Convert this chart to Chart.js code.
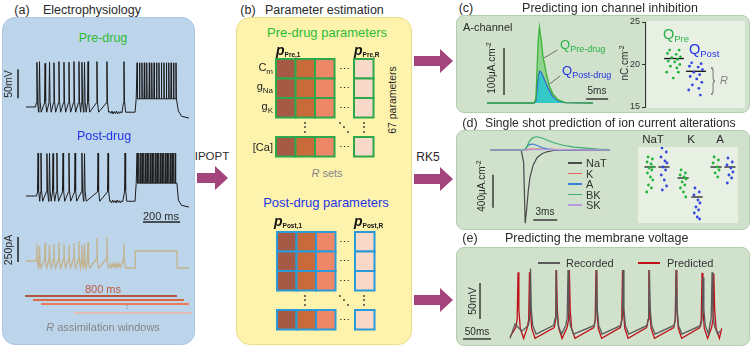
<!DOCTYPE html>
<html>
<head>
<meta charset="utf-8">
<title>Parameter estimation figure</title>
<script src="https://cdn.jsdelivr.net/npm/chart.js@4/dist/chart.umd.min.js"></script>
<style>
  html, body { margin: 0; padding: 0; background: #fff; }
  #fig { position: relative; width: 753px; height: 348px; overflow: hidden;
         font-family: 'Liberation Sans', Arial, sans-serif; color: #2a2a2a; }
  #fig canvas { position: absolute; }
  .t { position: absolute; white-space: nowrap; line-height: 1; }
  .b { position: absolute; box-sizing: border-box; }
</style>
</head>
<body>
<div id="fig"></div>
<script>
// ---------- data ----------
// (a) recordings, time in ms, voltage in mV, injected current in pA
const preSpikes = [59, 73, 103, 127, 151, 178, 205, 232, 259, 286, 302, 316, 335, 383, 437, 529];
const prePeaks = [12, 13, 10, 12, 11, 13, 12, 12, 13, 13, 12, 12, 13, 13, 13, 13];
const preBurst = [600, 613, 626, 639, 652, 666, 679, 692, 705, 718, 731, 745, 758, 771, 784, 797, 810];
const preNoise = [[452,-73],[458,-76],[464,-72],[470,-77],[476,-73],[482,-76],[488,-72],[494,-77],[500,-73],[506,-76],[512,-73],[518,-75]];
const postSpikes = [65, 81, 113, 127, 146, 167, 200, 232, 265, 302, 316, 389, 443, 535];
const postPeaks = [9, 9, 8, 9, 8, 9, 9, 9, 9, 9, 8, 9, 9, 9];
const postBurst = [600, 609, 618, 627, 636, 645, 654, 663, 672, 681, 690, 699, 708, 717, 726, 735, 744, 753, 762, 771, 780, 789, 798, 807];
const postNoise = [[456,-73],[462,-77],[468,-72],[474,-76],[480,-73],[486,-77],[492,-72],[498,-76],[504,-73],[510,-77],[516,-73],[522,-75]];
const stimPeaks = [170, 150, 180, 160, 170, 190, 170, 160, 180, 200, 160, 170, 190, 230, 240, 180];
const stimNoise = [[450,-60],[456,-30],[462,-65],[468,-25],[474,-60],[480,-30],[486,-65],[492,-25],[498,-60],[504,-30],[510,-65],[516,-35]];
const stepOn = 589, stepOff = 815, traceEnd = 880;
const windowStart = [-5, 38, 81, 259];
const windowEnd = [815, 853, 880, 896];

// (b) parameter matrix: rows = parameters (1,2,3 ... 67th), cols = sets (1,2,3 ... R)
const gridRows = [1, 2, 3, 5];
const gridCols = [1, 2, 3, 5];
const rowNames = ['C<sub>m</sub>', 'g<sub>Na</sub>', 'g<sub>K</sub>', '[Ca]'];

// (c) A-channel current (ms, uA/cm2) and charge (nC/cm2)
const aTime = [0, 10.7, 11.1, 11.6, 11.9, 12.3, 12.7, 13.4, 14.1, 14.9, 16.1, 17.7, 24];
const aPre  = [0, 0, 10, 130, 162, 135, 100, 65, 38, 20, 7, 1, 0];
const aPost = [0, 0, 5, 55, 68, 66, 58, 42, 28, 14, 5, 1, 0];
const qPre  = [21.7, 21.7, 21.3, 21.2, 20.9, 20.8, 20.6, 20.4, 20.3, 20.0, 19.8, 19.6, 19.1, 19.1, 18.4];
const qPost = [20.2, 20.1, 19.8, 19.7, 19.4, 19.1, 18.8, 18.6, 18.3, 17.9, 17.6, 17.2, 17.0, 16.4];
const qPreMean = 20.7, qPostMean = 19.2;

// (d) ionic currents (ms, uA/cm2) and alterations
const curTime = [0, 3.9, 4.2, 4.4, 4.6, 4.8, 5.0, 5.4, 5.9, 6.5, 7.1, 7.9, 9, 10.5, 12, 13.5, 15];
const curNaT = [0, 0, -150, -885, -700, -480, -330, -180, -90, -45, -22, -6, 0, 0, 0, 0, 0];
const curK   = [0, 0, 0, 2, 5, 8, 10, 12, 12, 11, 9, 7, 4, 2, 1, 0, 0];
const curA   = [0, 0, 0, 10, 35, 55, 68, 72, 55, 30, 14, 5, 0, 0, 0, 0, 0];
const curBK  = [0, 0, 0, 10, 40, 80, 115, 150, 160, 145, 120, 90, 60, 35, 22, 10, 5];
const curSK  = [0, 0, 0, 0, 0, 1, 2, 3, 4, 5, 5, 5, 4, 3, 2, 1, 0];
const curNames = ['NaT', 'K', 'A', 'BK', 'SK'];
const altGroups = ['NaT', 'K', 'A'];
const altPre  = [[66,64,61,59,56,55,53,50,46,43,38,35,31], [53,50,48,46,44,41,38,35,31,26], [66,63,60,56,53,50,46]];
const altPost = [[75,71,66,62,60,56,53,48,43,37,33], [35,31,28,23,20,16,13,10,6,4], [65,61,58,55,51,48,45,40]];
const altPreMean = [56, 45, 56];
const altPostMean = [56, 26, 56];

// (e) membrane voltage (ms, mV)
const recSpikes = [36.6, 82, 103.6, 154.5, 202, 249, 297, 344.7, 360.8];
const recPeaks  = [27, 25, 25, 25, 25, 25, 25, 15, 22];
const predSpikes = [14.3, 34.8, 83, 106, 153.6, 201, 248, 296.5, 343, 364];
const predPeaks  = [22, 22, 25, 25, 25, 25, 25, 25, 21, 20];

// ---------- styles ----------
const GREEN = '#2dbb36', BLUE = '#2433e6', PURPLE = '#a3447c', GREY = '#858585';
const dotGreen = '#22b33a', dotBlue = '#3347e0';
const cellFill = ['#a65a45', '#c96a3b', '#ee8768', '#f8d8c9'];
const windowColors = ['#b4553e', '#d9683f', '#ef7b55', '#f5b0a5'];
const curColors = ['#4a4a4a', '#e86060', '#3d7fd6', '#3fb070', '#b79be0'];
const dotJitter = [-0.06, 0.07, -0.09, 0.03, 0.09, -0.03, 0.05, -0.08, 0.01, 0.08, -0.05, 0.04, -0.1, 0.06, -0.01];

Chart.defaults.font.family = "'Liberation Sans', Arial, sans-serif";

// ---------- helpers ----------
const fig = document.getElementById('fig');

function rectDiv(x, y, w, h, bg, border, r) {
  const d = document.createElement('div');
  d.className = 'b';
  d.style.cssText = `left:${x}px;top:${y}px;width:${w}px;height:${h}px;background:${bg};border:${border};border-radius:${r}px`;
  fig.appendChild(d);
  return d;
}

function txt(html, x, y, size, color, anchor, rot, extra) {
  const d = document.createElement('div');
  d.className = 't';
  d.innerHTML = html;
  const ax = anchor === 'l' ? '0' : anchor === 'r' ? '-100%' : '-50%';
  d.style.left = x + 'px';
  d.style.top = y + 'px';
  d.style.fontSize = size + 'px';
  d.style.color = color || '#2a2a2a';
  d.style.transform = `translate(${ax},-50%)` + (rot ? ` rotate(${rot}deg)` : '');
  if (extra) Object.assign(d.style, extra);
  fig.appendChild(d);
  return d;
}
const sub = (s, f) => `<span style="font-size:${f}px;vertical-align:-0.3em">${s}</span>`;
const sup = (s, f) => `<span style="font-size:${f}px;vertical-align:0.6em">${s}</span>`;

function arrow(x1, x2, cy) {
  const w = x2 - x1, h = 24, head = 13, sh = 5;
  const d = document.createElement('div');
  d.className = 'b';
  d.style.cssText = `left:${x1}px;top:${cy - h / 2}px;width:${w}px;height:${h}px;background:${PURPLE};` +
    `clip-path:polygon(0 ${h / 2 - sh}px, ${w - head}px ${h / 2 - sh}px, ${w - head}px 0, ${w}px ${h / 2}px, ${w - head}px ${h}px, ${w - head}px ${h / 2 + sh}px, 0 ${h / 2 + sh}px)`;
  fig.appendChild(d);
}

function hline(x, y, w, color, t) {
  const d = document.createElement('div');
  d.className = 'b';
  d.style.cssText = `left:${x}px;top:${y - t / 2}px;width:${w}px;height:${t}px;background:${color}`;
  fig.appendChild(d);
}

function canvasAt(x, y, w, h) {
  const c = document.createElement('canvas');
  c.width = w; c.height = h;
  c.style.left = x + 'px'; c.style.top = y + 'px';
  c.style.width = w + 'px'; c.style.height = h + 'px';
  fig.appendChild(c);
  return c;
}

function baseOpts(xr, yr, rev) {
  return {
    responsive: false, animation: false, devicePixelRatio: 1,
    layout: { padding: 0, autoPadding: false },
    plugins: { legend: { display: false }, tooltip: { enabled: false } },
    elements: { point: { radius: 0 }, line: { tension: 0 } },
    scales: {
      x: { type: 'linear', display: false, min: xr[0], max: xr[1] },
      y: { type: 'linear', display: false, min: yr[0], max: yr[1], reverse: !!rev }
    }
  };
}

function lineChart(rect, xr, yr, datasets, rev) {
  return new Chart(canvasAt(...rect), { type: 'line', data: { datasets }, options: baseOpts(xr, yr, rev) });
}

const ln = (data, color, w, extra) => Object.assign({ data, borderColor: color, borderWidth: w, fill: false, pointRadius: 0 }, extra || {});
const seg = (x1, y1, x2, y2) => [{ x: x1, y: y1 }, { x: x2, y: y2 }];
const xy = (xs, ys) => xs.map((x, i) => ({ x, y: ys[i] }));

// recording with irregular firing, then a depolarising step with a burst
function recording(spikes, peaks, burst, burstPeak, noise, lv) {
  const pts = [{ x: 0, y: lv.rest }, { x: spikes[0] - 8, y: lv.rest }];
  spikes.forEach((t, i) => {
    pts.push({ x: t - 3, y: lv.thr }, { x: t, y: peaks[i] }, { x: t + 3, y: lv.fall }, { x: t + 9, y: lv.trough });
  });
  noise.forEach(p => pts.push({ x: p[0], y: p[1] }));
  pts.push({ x: stepOn, y: lv.trough }, { x: stepOn + (lv.square ? 1 : 6), y: lv.plateau });
  burst.forEach(t => pts.push({ x: t - 2, y: lv.plateau }, { x: t, y: burstPeak }, { x: t + 2, y: lv.plateau }));
  if (lv.square) {
    pts.push({ x: stepOff, y: lv.plateau }, { x: stepOff + 1, y: lv.after }, { x: traceEnd, y: lv.after });
  } else {
    pts.push({ x: stepOff, y: lv.plateau }, { x: stepOff + 8, y: lv.after + 12 }, { x: stepOff + 25, y: lv.after + 3 }, { x: traceEnd, y: lv.after });
  }
  return pts.sort((a, b) => a.x - b.x);
}

// narrow spikes with a curved after-hyperpolarisation
function vmTrace(start, spikes, peaks, lv, extra, end) {
  const pts = [start, ...extra];
  spikes.forEach((t, i) => {
    pts.push({ x: t - 4, y: lv.ramp }, { x: t - 1.5, y: lv.thr }, { x: t, y: peaks[i] }, { x: t + 1.5, y: lv.fall },
      { x: t + 4, y: lv.ahp }, { x: t + 10, y: lv.trough });
  });
  pts.push(end);
  return pts.sort((a, b) => a.x - b.x);
}

// ---------- panel backgrounds ----------
rectDiv(2, 17, 193, 328, '#bdd5eb', '1px solid #aac7e4', 13);
rectDiv(236, 17, 176, 328, '#fdf3ad', '1px solid #ecdc88', 14);
rectDiv(456, 15, 294, 98, '#d0e2cc', '1px solid #b5ceb0', 8);
rectDiv(456, 130, 294, 100, '#d0e2cc', '1px solid #b5ceb0', 8);
rectDiv(456, 247, 294, 99, '#d0e2cc', '1px solid #b5ceb0', 8);
rectDiv(647, 21, 98, 87, '#e7f0e3', 'none', 0);
rectDiv(638, 147, 100, 76, '#e7f0e3', 'none', 0);

arrow(197, 228, 178);
arrow(414, 453, 61);
arrow(414, 453, 179);
arrow(414, 453, 300);

// ---------- (a) electrophysiology ----------
const aX = [-75.6, 907.2];
lineChart([12, 55, 182, 70], aX, [-96, 24.4], [
  ln(recording(preSpikes, prePeaks, preBurst, 11, preNoise,
    { rest: -65, thr: -58, fall: -55, trough: -74, plateau: -51, after: -84 }), '#1c1c1c', 1),
  ln(seg(-43, -50, -43, 0), '#222', 1.5)
]);
lineChart([12, 138, 182, 90], aX, [-120, 34.8], [
  ln(recording(postSpikes, postPeaks, postBurst, 9, postNoise,
    { rest: -65, thr: -58, fall: -55, trough: -74, plateau: -43, after: -84 }), '#1c1c1c', 1),
  ln(seg(632, -109.7, 832, -109.7), '#222', 1.5)
]);
lineChart([12, 230, 182, 44], aX, [-130, 310], [
  ln(recording(preSpikes, stimPeaks, [], 0, stimNoise,
    { rest: 0, thr: 20, fall: -20, trough: -70, plateau: 100, after: -70, square: true }), '#c2b28e', 1.3),
  ln(seg(-43, -10, -43, 240), '#222', 1.5)
]);
lineChart([12, 290, 182, 28], aX, [-0.5, 6.5], [
  ...windowStart.map((s, i) => ln(seg(s, i < 3 ? i + 1 : 5.25, windowEnd[i], i < 3 ? i + 1 : 5.25), windowColors[i], i < 3 ? 2 : 1.5)),
  ln(seg(545, 3.3, 545, 4.5), '#777', 1, { borderDash: [1, 1.5] })
], true);

txt('(a)', 22, 10, 12.5);
txt('Electrophysiology', 43, 10, 12.5, null, 'l');
txt('Pre-drug', 103, 38, 12.5, GREEN);
txt('Post-drug', 104, 136, 12.5, BLUE);
txt('50mV', 8, 84, 10.5, null, 'c', -90);
txt('200 ms', 161, 216, 11);
txt('250pA', 8, 250, 10.5, null, 'c', -90);
txt('800 ms', 103, 289, 11, '#c0583e');
txt('<i>R</i> assimilation windows', 103, 327, 11, GREY);
txt('IPOPT', 212, 157, 11.5);
txt('RK5', 428, 157, 12);

// ---------- (b) parameter estimation ----------
function paramGrid(x, y, edge) {
  const pts = [], fills = [];
  gridRows.forEach(r => gridCols.forEach((c, j) => { pts.push({ x: c, y: r }); fills.push(cellFill[j]); }));
  new Chart(canvasAt(x, y, 110, 105), {
    type: 'scatter',
    data: { datasets: [{ data: pts, pointStyle: 'rect', pointRadius: 13.8, backgroundColor: fills, borderColor: edge, borderWidth: 2, clip: false }] },
    options: baseOpts([0.192, 5.833], [0.295, 5.68], true)
  });
}
paramGrid(270, 55, '#2ea84a');
paramGrid(271, 228, '#2a9ad8');

txt('(b)', 248, 10, 12.5);
txt('Parameter estimation', 265, 10, 12.5, null, 'l');
txt('Pre-drug parameters', 327, 32, 13, GREEN);
txt('Post-drug parameters', 326, 202, 13, BLUE);
txt('<i>R</i> sets', 327, 173, 11, GREY);
txt('67 parameters', 392, 100, 10.5, null, 'c', -90);
const pLab = (s) => `<b><i>p</i></b>${sub('<b>' + s + '</b>', 6.5)}`;
txt(pLab('Pre,1'), 276, 51, 14, '#111', 'l');
txt(pLab('Pre,R'), 354, 51, 14, '#111', 'l');
txt(pLab('Post,1'), 274, 222, 14, '#111', 'l');
txt(pLab('Post,R'), 354, 222, 14, '#111', 'l');
[68.75, 88.25, 107.75, 146.7].forEach((yy, i) => {
  txt(rowNames[i].replace(/<sub>(.*?)<\/sub>/, (m, s) => sub(s, 8)), 273, yy, 11, '#222', 'r');
});
[0, 173].forEach(dy => {
  [68.75, 88.25, 107.75, 146.7].forEach(yy => txt('\u22ef', 344, yy + dy, 11, '#222'));
  txt('\u22ee', 305, 127 + dy, 12, '#222');
  txt('\u22f1', 344, 127 + dy, 12, '#222');
  txt('\u22ee', 364, 127 + dy, 12, '#222');
});

// ---------- (c) ion channel inhibition ----------
lineChart([470, 18, 145, 92], [-3.86, 29.05], [-14.9, 181], [
  ln(xy(aTime, aPre), '#3cb43c', 1.3, { fill: 1, backgroundColor: 'rgba(90,200,90,0.55)' }),
  ln(xy(aTime, aPost), '#3a4fe0', 1.3, { fill: 'origin', backgroundColor: '#34c9c6' }),
  ln(seg(3.86, 17, 3.86, 117), '#222', 1.3),
  ln(seg(22.5, 8.5, 27.5, 8.5), '#222', 1.3),
  ln(seg(12.8, 95, 16, 113), '#6d6d6d', 1),
  ln(seg(13.85, 38, 16.6, 57.5), '#6d6d6d', 1)
]);

new Chart(canvasAt(625, 14, 125, 102), {
  type: 'scatter',
  data: {
    datasets: [
      { data: qPre.map((v, i) => ({ x: 1 + dotJitter[i] * 3.3, y: v })), backgroundColor: dotGreen, pointRadius: 1.4, borderWidth: 0 },
      { data: qPost.map((v, i) => ({ x: 2 + dotJitter[i] * 3.3, y: v })), backgroundColor: dotBlue, pointRadius: 1.4, borderWidth: 0 },
      { data: seg(0.55, qPreMean, 1.45, qPreMean), showLine: true, borderColor: '#111', borderWidth: 1.3, pointRadius: 0 },
      { data: seg(1.55, qPostMean, 2.45, qPostMean), showLine: true, borderColor: '#111', borderWidth: 1.3, pointRadius: 0 }
    ]
  },
  options: {
    responsive: false, animation: false, devicePixelRatio: 1,
    layout: { padding: { top: 8, bottom: 9, right: 5, left: 0 }, autoPadding: false },
    plugins: { legend: { display: false }, tooltip: { enabled: false } },
    scales: {
      x: { type: 'linear', display: false, min: -0.318, max: 4.227 },
      y: {
        type: 'linear', min: 15, max: 25, position: 'left',
        ticks: { stepSize: 10, font: { size: 9 }, color: '#333', padding: 2 },
        grid: { drawOnChartArea: false, tickLength: 3, color: '#333' },
        border: { color: '#333' },
        afterFit: s => { s.width = 20; }
      }
    }
  }
});

txt('(c)', 466, 8, 12.5);
txt('Predicting ion channel inhibition', 610, 8, 12.5);
txt('A-channel', 463, 27, 11, null, 'l');
txt('100\u03bcA.cm' + sup('-2', 7), 491, 68, 10, null, 'c', -90);
txt('5ms', 597, 91, 10);
txt('Q' + sub('Pre-drug', 9), 560, 46, 13, '#29b046', 'l');
txt('Q' + sub('Post-drug', 9), 562, 72, 13, BLUE, 'l');
txt('nC.cm' + sup('-2', 7), 624, 63, 10, null, 'c', -90);
txt('Q' + sub('Pre', 9.5), 663, 35, 14.5, '#29b046', 'l');
txt('Q' + sub('Post', 9.5), 689, 50, 14.5, BLUE, 'l');
txt('}', 713, 79, 30, GREY, 'c', 0, { transform: 'translate(-50%,-50%) scaleX(0.45)', fontWeight: '300' });
txt('<i>R</i>', 724, 80, 11, GREY);

// ---------- (d) ion current alterations ----------
const curSeries = [curNaT, curK, curA, curBK, curSK];
lineChart([476, 128, 140, 100], [-1.75, 15.75], [-944, 266], [
  ...curSeries.slice().reverse().map((ys, k) => ln(xy(curTime, ys), curColors[4 - k], 1.2)),
  ln(seg(0.375, -300, 0.375, -700), '#222', 1.3),
  ln(seg(5.4, -847, 8.4, -847), '#222', 1.3)
]);

new Chart(canvasAt(638, 147, 100, 76), {
  type: 'scatter',
  data: {
    datasets: altGroups.flatMap((g, gi) => [
      { data: altPre[gi].map((v, i) => ({ x: gi + 1 - 0.21 + dotJitter[i], y: v })), backgroundColor: dotGreen, pointRadius: 1.4, borderWidth: 0 },
      { data: altPost[gi].map((v, i) => ({ x: gi + 1 + 0.21 + dotJitter[i], y: v })), backgroundColor: dotBlue, pointRadius: 1.4, borderWidth: 0 },
      { data: seg(gi + 1 - 0.38, altPreMean[gi], gi + 1 - 0.04, altPreMean[gi]), showLine: true, borderColor: '#111', borderWidth: 1.2, pointRadius: 0 },
      { data: seg(gi + 1 + 0.04, altPostMean[gi], gi + 1 + 0.38, altPostMean[gi]), showLine: true, borderColor: '#111', borderWidth: 1.2, pointRadius: 0 }
    ])
  },
  options: baseOpts([0.424, 3.454], [0, 76])
});

txt('(d)', 470, 123, 12.5);
txt('Single shot prediction of ion current alterations', 485, 123, 12.2, null, 'l');
txt('400\u03bcA.cm' + sup('-2', 7), 481, 186, 10, null, 'c', -90);
txt('3ms', 545, 212, 10);
curNames.forEach((n, i) => {
  const yy = 163 + i * 10.5;
  hline(568, yy, 14, curColors[i], 1.5);
  txt(n, 586, yy, 11, '#333', 'l');
});
txt('NaT', 653, 140, 11.5);
txt('K', 691, 140, 11.5);
txt('A', 720, 140, 11.5);

// ---------- (e) membrane voltage ----------
lineChart([458, 260, 272, 84], [-92.9, 392.9], [-77.8, 38.9], [
  ln(vmTrace({ x: 0, y: -70 }, recSpikes, recPeaks, { ramp: -52, thr: -42, fall: -30, ahp: -52, trough: -64 },
    [{ x: 9, y: -50 }, { x: 21, y: -60 }], { x: 375, y: -60 }), '#5a5a5a', 1.3),
  ln(vmTrace({ x: 0, y: -68 }, predSpikes, predPeaks, { ramp: -55, thr: -44, fall: -30, ahp: -56, trough: -70 },
    [], { x: 378, y: -56 }), '#c0101a', 1.3),
  ln(seg(-53.6, -43, -53.6, 7), '#222', 1.3),
  ln(seg(-84, -70.8, -34, -70.8), '#222', 1.3)
]);

txt('(e)', 470, 238, 12.5);
txt('Predicting the membrane voltage', 505, 238, 12.5, null, 'l');
hline(538, 263, 22, '#5a5a5a', 1.5);
txt('Recorded', 566, 263, 11, '#333', 'l');
hline(638, 263, 22, '#c0101a', 1.5);
txt('Predicted', 667, 263, 11, '#333', 'l');
txt('50mV', 472, 301, 10.5, null, 'c', -90);
txt('50ms', 477, 332, 10);
</script>
</body>
</html>
